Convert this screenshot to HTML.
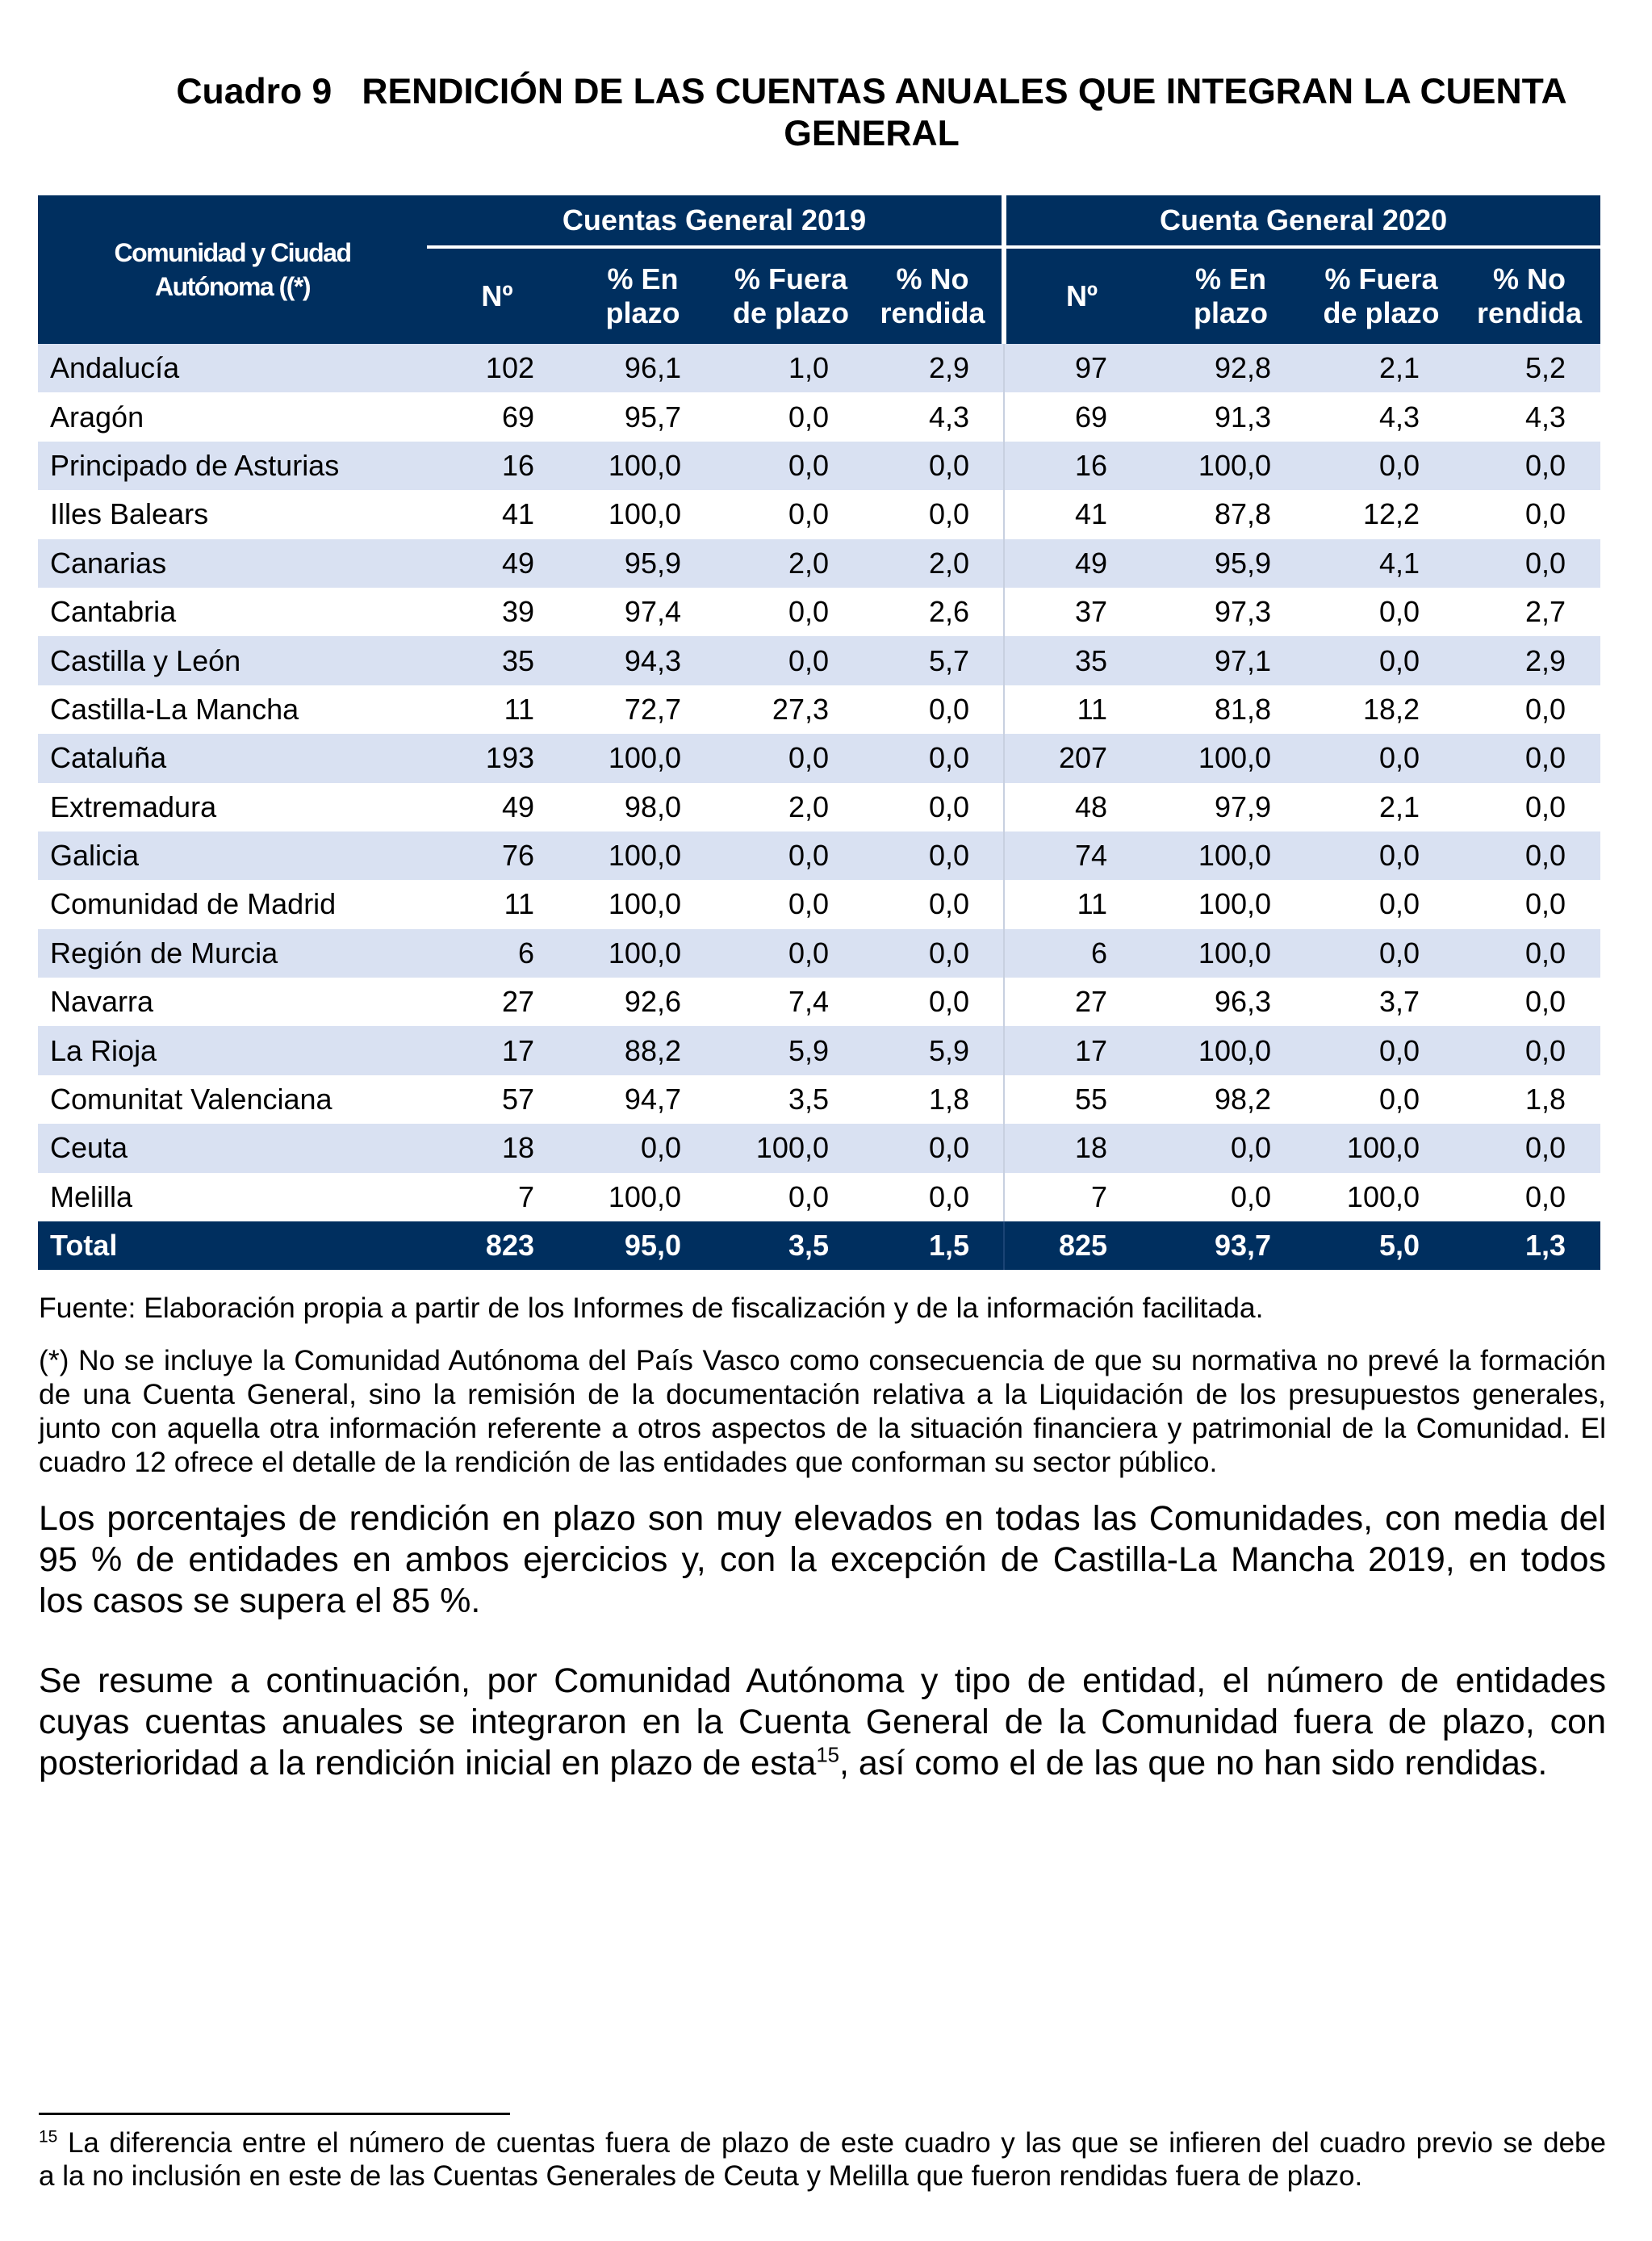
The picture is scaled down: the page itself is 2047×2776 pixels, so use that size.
<!DOCTYPE html>
<html><head><meta charset="utf-8"><style>
body{margin:0;background:#fff;width:2047px;height:2776px;position:relative;font-family:"Liberation Sans",Arial,sans-serif;color:#000;overflow:hidden}
.title{position:absolute;left:150px;top:88px;width:1860px;text-align:center;font-weight:bold;font-size:44.5px;line-height:52px}
table{position:absolute;left:47px;top:242px;border-collapse:collapse;table-layout:fixed;width:1936px}
td{padding:0;height:60.4px;font-size:36px;text-align:right;white-space:nowrap}
td.n{text-align:left;padding-left:15px}
tr.h td{background:#002f5f;color:#fff;font-weight:bold;text-align:center}
tr.a td{background:#d9e1f2}
tr.t td{background:#002f5f;color:#fff;font-weight:bold}
.c1{padding-right:41px}.c2{padding-right:46px}.c3{padding-right:43px}.c4{padding-right:42px;border-right:2px solid #c8d0e0}
.c5{padding-right:62px}.c6{padding-right:41px}.c7{padding-right:48px}.c8{padding-right:43px}
.p{position:absolute;left:48px;width:1942px;text-align:justify;text-align-last:left}
.p span{display:block;text-align:justify;text-align-last:justify;white-space:nowrap}
.p span.l{text-align-last:left}
sup{font-size:60%;line-height:0}
</style></head><body>
<div class="title">Cuadro 9&nbsp;&nbsp; RENDICIÓN DE LAS CUENTAS ANUALES QUE INTEGRAN LA CUENTA<br>GENERAL</div>
<table>
<colgroup><col style="width:482px"><col style="width:174px"><col style="width:187px"><col style="width:180px"><col style="width:174px"><col style="width:190px"><col style="width:182px"><col style="width:191px"><col style="width:176px"></colgroup>
<tr class="h"><td rowspan="2" style="font-size:32px;letter-spacing:-1.5px;line-height:42px;vertical-align:top;padding-top:50px">Comunidad y Ciudad<br>Autónoma ((*)</td>
<td colspan="4" style="height:62px;border-bottom:4px solid #fff;border-right:6px solid #fff">Cuentas General 2019</td>
<td colspan="4" style="height:62px;border-bottom:4px solid #fff">Cuenta General 2020</td></tr>
<tr class="h" style="line-height:42px"><td style="height:118px">Nº</td><td>% En<br>plazo</td><td>% Fuera<br>de plazo</td><td style="border-right:6px solid #fff">% No<br>rendida</td><td>Nº</td><td>% En<br>plazo</td><td>% Fuera<br>de plazo</td><td>% No<br>rendida</td></tr>
<tr class="a"><td class="n">Andalucía</td><td class="c1">102</td><td class="c2">96,1</td><td class="c3">1,0</td><td class="c4">2,9</td><td class="c5">97</td><td class="c6">92,8</td><td class="c7">2,1</td><td class="c8">5,2</td></tr>
<tr><td class="n">Aragón</td><td class="c1">69</td><td class="c2">95,7</td><td class="c3">0,0</td><td class="c4">4,3</td><td class="c5">69</td><td class="c6">91,3</td><td class="c7">4,3</td><td class="c8">4,3</td></tr>
<tr class="a"><td class="n">Principado de Asturias</td><td class="c1">16</td><td class="c2">100,0</td><td class="c3">0,0</td><td class="c4">0,0</td><td class="c5">16</td><td class="c6">100,0</td><td class="c7">0,0</td><td class="c8">0,0</td></tr>
<tr><td class="n">Illes Balears</td><td class="c1">41</td><td class="c2">100,0</td><td class="c3">0,0</td><td class="c4">0,0</td><td class="c5">41</td><td class="c6">87,8</td><td class="c7">12,2</td><td class="c8">0,0</td></tr>
<tr class="a"><td class="n">Canarias</td><td class="c1">49</td><td class="c2">95,9</td><td class="c3">2,0</td><td class="c4">2,0</td><td class="c5">49</td><td class="c6">95,9</td><td class="c7">4,1</td><td class="c8">0,0</td></tr>
<tr><td class="n">Cantabria</td><td class="c1">39</td><td class="c2">97,4</td><td class="c3">0,0</td><td class="c4">2,6</td><td class="c5">37</td><td class="c6">97,3</td><td class="c7">0,0</td><td class="c8">2,7</td></tr>
<tr class="a"><td class="n">Castilla y León</td><td class="c1">35</td><td class="c2">94,3</td><td class="c3">0,0</td><td class="c4">5,7</td><td class="c5">35</td><td class="c6">97,1</td><td class="c7">0,0</td><td class="c8">2,9</td></tr>
<tr><td class="n">Castilla-La Mancha</td><td class="c1">11</td><td class="c2">72,7</td><td class="c3">27,3</td><td class="c4">0,0</td><td class="c5">11</td><td class="c6">81,8</td><td class="c7">18,2</td><td class="c8">0,0</td></tr>
<tr class="a"><td class="n">Cataluña</td><td class="c1">193</td><td class="c2">100,0</td><td class="c3">0,0</td><td class="c4">0,0</td><td class="c5">207</td><td class="c6">100,0</td><td class="c7">0,0</td><td class="c8">0,0</td></tr>
<tr><td class="n">Extremadura</td><td class="c1">49</td><td class="c2">98,0</td><td class="c3">2,0</td><td class="c4">0,0</td><td class="c5">48</td><td class="c6">97,9</td><td class="c7">2,1</td><td class="c8">0,0</td></tr>
<tr class="a"><td class="n">Galicia</td><td class="c1">76</td><td class="c2">100,0</td><td class="c3">0,0</td><td class="c4">0,0</td><td class="c5">74</td><td class="c6">100,0</td><td class="c7">0,0</td><td class="c8">0,0</td></tr>
<tr><td class="n">Comunidad de Madrid</td><td class="c1">11</td><td class="c2">100,0</td><td class="c3">0,0</td><td class="c4">0,0</td><td class="c5">11</td><td class="c6">100,0</td><td class="c7">0,0</td><td class="c8">0,0</td></tr>
<tr class="a"><td class="n">Región de Murcia</td><td class="c1">6</td><td class="c2">100,0</td><td class="c3">0,0</td><td class="c4">0,0</td><td class="c5">6</td><td class="c6">100,0</td><td class="c7">0,0</td><td class="c8">0,0</td></tr>
<tr><td class="n">Navarra</td><td class="c1">27</td><td class="c2">92,6</td><td class="c3">7,4</td><td class="c4">0,0</td><td class="c5">27</td><td class="c6">96,3</td><td class="c7">3,7</td><td class="c8">0,0</td></tr>
<tr class="a"><td class="n">La Rioja</td><td class="c1">17</td><td class="c2">88,2</td><td class="c3">5,9</td><td class="c4">5,9</td><td class="c5">17</td><td class="c6">100,0</td><td class="c7">0,0</td><td class="c8">0,0</td></tr>
<tr><td class="n">Comunitat Valenciana</td><td class="c1">57</td><td class="c2">94,7</td><td class="c3">3,5</td><td class="c4">1,8</td><td class="c5">55</td><td class="c6">98,2</td><td class="c7">0,0</td><td class="c8">1,8</td></tr>
<tr class="a"><td class="n">Ceuta</td><td class="c1">18</td><td class="c2">0,0</td><td class="c3">100,0</td><td class="c4">0,0</td><td class="c5">18</td><td class="c6">0,0</td><td class="c7">100,0</td><td class="c8">0,0</td></tr>
<tr><td class="n">Melilla</td><td class="c1">7</td><td class="c2">100,0</td><td class="c3">0,0</td><td class="c4">0,0</td><td class="c5">7</td><td class="c6">0,0</td><td class="c7">100,0</td><td class="c8">0,0</td></tr>
<tr class="t"><td class="n">Total</td><td class="c1">823</td><td class="c2">95,0</td><td class="c3">3,5</td><td class="c4" style="border-right-color:#1a4475">1,5</td><td class="c5">825</td><td class="c6">93,7</td><td class="c7">5,0</td><td class="c8">1,3</td></tr>
</table>
<div class="p" style="top:1599px;font-size:35.5px;line-height:42px">Fuente: Elaboración propia a partir de los Informes de fiscalización y de la información facilitada.</div>
<div class="p" style="top:1664px;font-size:35.5px;line-height:42px"><span>(*) No se incluye la Comunidad Autónoma del País Vasco como consecuencia de que su normativa no prevé la formación</span><span>de una Cuenta General, sino la remisión de la documentación relativa a la Liquidación de los presupuestos generales,</span><span>junto con aquella otra información referente a otros aspectos de la situación financiera y patrimonial de la Comunidad. El</span><span class="l">cuadro 12 ofrece el detalle de la rendición de las entidades que conforman su sector público.</span></div>
<div class="p" style="top:1856px;font-size:43px;line-height:51px"><span>Los porcentajes de rendición en plazo son muy elevados en todas las Comunidades, con media del</span><span>95 % de entidades en ambos ejercicios y, con la excepción de Castilla-La Mancha 2019, en todos</span><span class="l">los casos se supera el 85 %.</span></div>
<div class="p" style="top:2057px;font-size:43px;line-height:51px"><span>Se resume a continuación, por Comunidad Autónoma y tipo de entidad, el número de entidades</span><span>cuyas cuentas anuales se integraron en la Cuenta General de la Comunidad fuera de plazo, con</span><span class="l">posterioridad a la rendición inicial en plazo de esta<sup>15</sup>, así como el de las que no han sido rendidas.</span></div>
<div style="position:absolute;left:48px;top:2617px;width:584px;height:3px;background:#000"></div>
<div class="p" style="top:2634px;font-size:35px;line-height:41px"><span><sup>15</sup> La diferencia entre el número de cuentas fuera de plazo de este cuadro y las que se infieren del cuadro previo se debe</span><span class="l">a la no inclusión en este de las Cuentas Generales de Ceuta y Melilla que fueron rendidas fuera de plazo.</span></div>
</body></html>
